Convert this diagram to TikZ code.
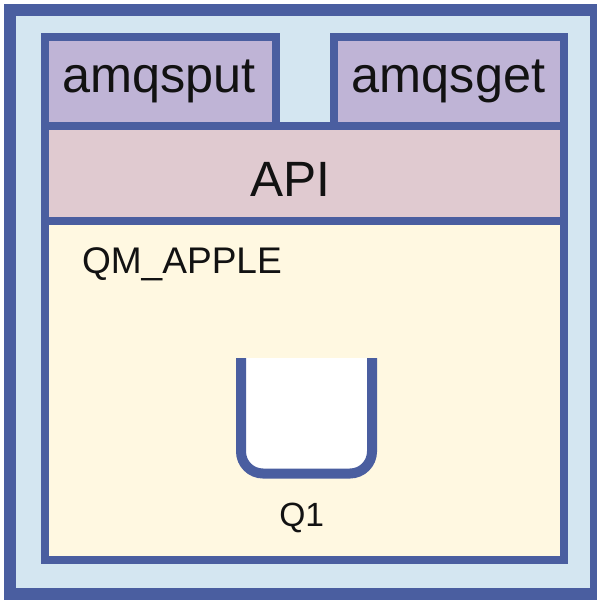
\documentclass[tikz,border=0pt]{standalone}
\usepackage{fontspec}
\setmainfont{Liberation Sans}
\definecolor{edgeblue}{RGB}{74,94,160}
\definecolor{skyfill}{RGB}{212,230,241}
\definecolor{appfill}{RGB}{191,180,214}
\definecolor{apifill}{RGB}{224,202,208}
\definecolor{qmfill}{RGB}{255,248,225}
\begin{document}
\begin{tikzpicture}[x=0.75pt,y=-0.75pt,
  box/.style={draw=edgeblue,line width=6pt,rectangle,inner sep=0pt,outer sep=0pt},
  lbl/.style={inner sep=0pt,outer sep=0pt,anchor=base,text=black!93},
  bigtxt/.style={font=\fontsize{37.8}{40}\selectfont},
  apitxt/.style={font=\fontsize{37.2}{40}\selectfont},
  midtxt/.style={font=\fontsize{27.8}{30}\selectfont},
  smalltxt/.style={font=\fontsize{25.2}{28}\selectfont}]
\useasboundingbox (0,0) rectangle (597,601);
% outer frame
\node[draw=edgeblue,fill=skyfill,line width=9pt,rectangle,inner sep=0pt,
      minimum width=586*0.75pt,minimum height=584*0.75pt] (frame) at (303,302) {};
% application boxes
\node[box,fill=appfill,minimum width=231*0.75pt,minimum height=89*0.75pt] (put) at (160.5,81.5) {};
\node[box,fill=appfill,minimum width=230.5*0.75pt,minimum height=89*0.75pt] (get) at (448.75,81.5) {};
% API layer
\node[box,fill=apifill,minimum width=519*0.75pt,minimum height=95*0.75pt] (api) at (304.5,173.5) {};
% queue manager
\node[box,fill=qmfill,minimum width=519*0.75pt,minimum height=339*0.75pt] (qm) at (304.5,390.5) {};
% labels
\node[lbl,bigtxt] (putlbl) at (158.7,92.3) {amqsput};
\node[lbl,bigtxt] (getlbl) at (448.5,92.3) {amqsget};
\node[lbl,apitxt] (apilbl) at (290,196.7) {API};
\node[lbl,midtxt,anchor=base west] (qmlbl) at (82,273.3) {QM\_APPLE};
% queue
\coordinate (qtl) at (241,358);
\coordinate (qbl) at (241,473.5);
\coordinate (qbr) at (372,473.5);
\coordinate (qtr) at (372,358);
\fill[white,rounded corners=16.5pt] (qtl) -- (qbl) -- (qbr) -- (qtr);
\draw[edgeblue,line width=7.5pt,rounded corners=16.5pt] (qtl) -- (qbl) -- (qbr) -- (qtr);
\node[lbl,smalltxt] (qlbl) at (301.7,526.7) {Q1};
\end{tikzpicture}
\end{document}
